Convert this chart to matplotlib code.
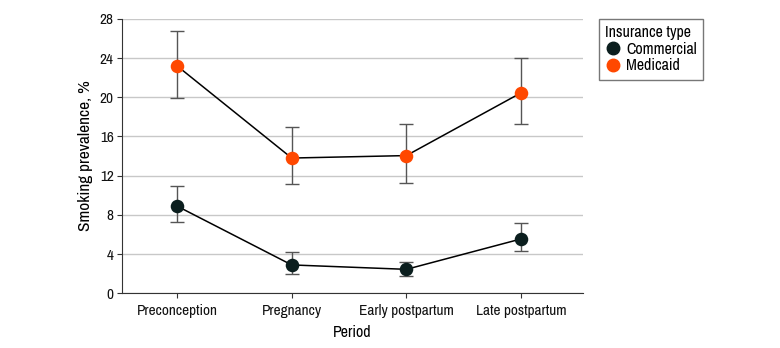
import matplotlib
matplotlib.use("Agg")
import matplotlib.pyplot as plt
from matplotlib.lines import Line2D

periods = ["Preconception", "Pregnancy", "Early postpartum", "Late postpartum"]

commercial = [8.9, 2.9, 2.45, 5.55]
commercial_lo = [7.25, 1.95, 1.8, 4.3]
commercial_hi = [10.9, 4.2, 3.2, 7.15]

medicaid = [23.2, 13.8, 14.05, 20.45]
medicaid_lo = [19.9, 11.2, 11.3, 17.25]
medicaid_hi = [26.8, 16.95, 17.3, 24.0]

plt.rcParams["font.family"] = ["Archivo Narrow", "Roboto Condensed", "DejaVu Sans"]

fig = plt.figure(figsize=(7.8, 3.48), dpi=100)
ax = fig.add_axes([0.1564, 0.157, 0.591, 0.789])

x = list(range(len(periods)))

series = [
    ("Commercial", commercial, commercial_lo, commercial_hi, "#0b1e1e"),
    ("Medicaid", medicaid, medicaid_lo, medicaid_hi, "#ff4800"),
]

handles = []
for name, vals, lo, hi, col in series:
    yerr = [[v - l for v, l in zip(vals, lo)], [h - v for v, h in zip(vals, hi)]]
    ax.errorbar(x, vals, yerr=yerr, fmt="none", ecolor="#555555",
                elinewidth=1, capsize=5, capthick=1, zorder=2)
    ax.plot(x, vals, color="black", lw=1.1, zorder=3)
    ax.scatter(x, vals, s=95, color=col, zorder=4, linewidths=0)
    handles.append(Line2D([], [], marker="o", ls="none", color=col,
                          markersize=9, label=name))

ax.set_xlim(-0.48, 3.54)
ax.set_ylim(0, 28)
ax.set_yticks(range(0, 29, 4))
ax.set_xticks(x)
ax.set_xticklabels(periods)
ax.yaxis.grid(True, color="#c8c8c8", lw=1)
ax.set_axisbelow(True)
for s in ["top", "right"]:
    ax.spines[s].set_visible(False)
for s in ["left", "bottom"]:
    ax.spines[s].set_color("#333333")
ax.tick_params(axis="both", labelsize=11, colors="#333333", labelcolor="#111111", length=3.5, pad=2.5)
ax.tick_params(axis="x", pad=4)
ax.set_xlabel("Period", fontsize=11.5, labelpad=5)
ax.set_ylabel("Smoking prevalence, %", fontsize=12.5, labelpad=5)

leg = fig.legend(handles=handles, title="Insurance type", loc="upper left",
                 bbox_to_anchor=(0.768, 0.946), borderaxespad=0,
                 frameon=True, fancybox=False,
                 fontsize=11.5, title_fontsize=11.5, handletextpad=0.4,
                 borderpad=0.4, labelspacing=0.1, handlelength=0.9)
leg._legend_box.align = "left"
leg.get_frame().set_edgecolor("#555555")
leg.get_frame().set_linewidth(1)

fig.savefig("out.png", dpi=100)
